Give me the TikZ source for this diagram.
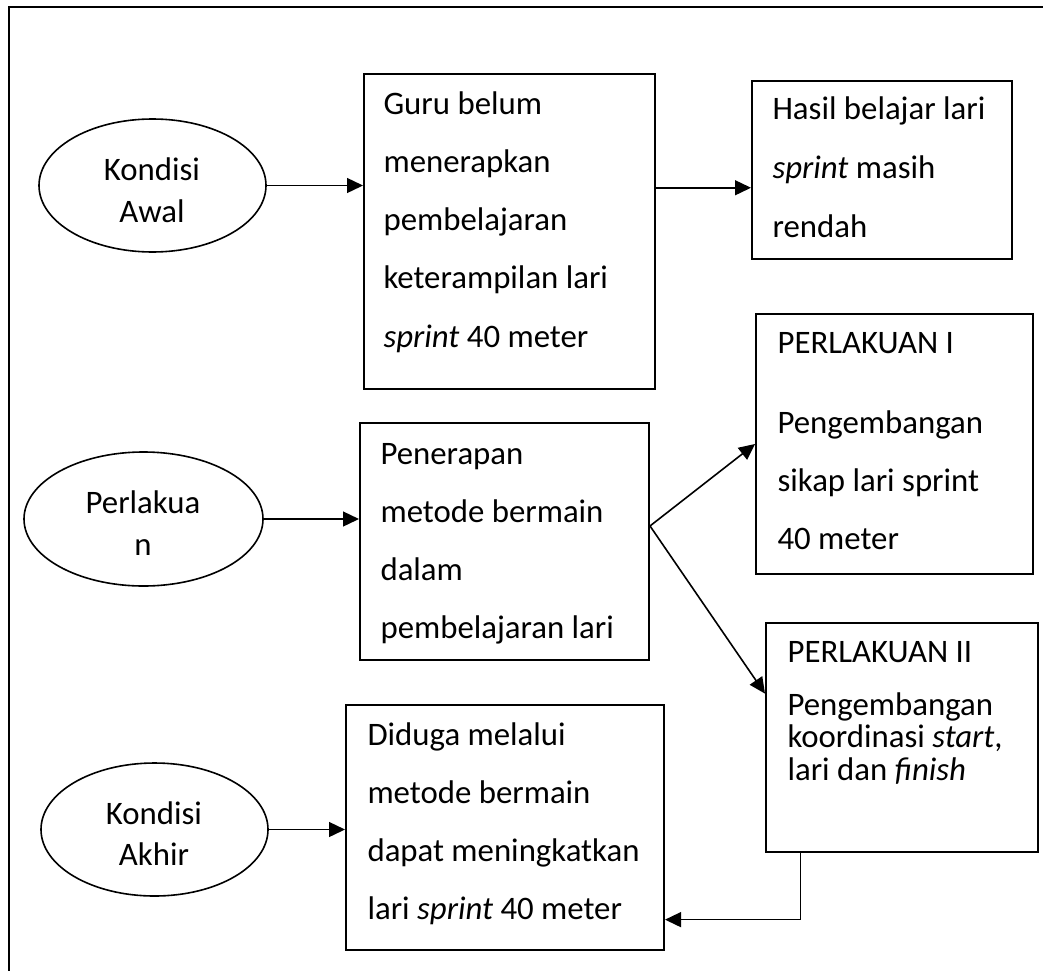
\documentclass[tikz,border=0pt]{standalone}
\usepackage{fontspec}
\setmainfont{Carlito}
\usetikzlibrary{arrows.meta,calc,shapes.geometric}
\begin{document}
\begin{tikzpicture}[x=0.375pt,y=-0.375pt,
  box/.style={draw,line width=0.75pt,inner sep=0pt,anchor=north west},
  oval/.style={draw,ellipse,line width=0.6pt,inner sep=0pt},
  txt/.style={anchor=base west,inner sep=0pt,font=\fontsize{12.3pt}{14pt}\selectfont},
  ctxt/.style={anchor=base,inner sep=0pt,align=center,font=\fontsize{12.3pt}{14pt}\selectfont},
  arr/.style={line width=0.6pt,-{Triangle[length=6pt,width=5.6pt]}}]
\useasboundingbox (0,0) rectangle (1043,970);
% outer frame (only top and left edges visible)
\draw[line width=0.75pt] (9,975) -- (9,7) -- (1048,7);
% ovals
\node[oval,minimum width=227*0.375pt,minimum height=133*0.375pt] (e1) at (152.5,185.5) {};
\node[oval,minimum width=239*0.375pt,minimum height=134*0.375pt] (e2) at (143.5,519) {};
\node[oval,minimum width=227*0.375pt,minimum height=133*0.375pt] (e3) at (154.5,829.5) {};
\node[ctxt] at (152,180) {Kondisi};
\node[ctxt] at (152,222) {Awal};
\node[ctxt] at (143,513) {Perlakua};
\node[ctxt] at (143,555) {n};
\node[ctxt] at (154,824) {Kondisi};
\node[ctxt] at (154,865) {Akhir};
% boxes
\node[box,minimum width=291*0.375pt,minimum height=315*0.375pt] (b1) at (363,73) {};
\node[box,minimum width=260*0.375pt,minimum height=178*0.375pt] (b2) at (751,80) {};
\node[box,minimum width=289*0.375pt,minimum height=237*0.375pt] (b3) at (359,422) {};
\node[box,minimum width=277*0.375pt,minimum height=260*0.375pt] (b4) at (755,313) {};
\node[box,minimum width=272*0.375pt,minimum height=229*0.375pt] (b5) at (765,622) {};
\node[box,minimum width=318*0.375pt,minimum height=245*0.375pt] (b6) at (345,704) {};
% box texts
\node[txt] at (383,115) {\parbox[t]{120pt}{\baselineskip=21.75pt Guru belum\\menerapkan\\pembelajaran\\keterampilan lari\\\textit{sprint} 40 meter}};
\node[txt] at (772,120) {\parbox[t]{100pt}{\baselineskip=22pt Hasil belajar lari\\\textit{sprint} masih\\rendah}};
\node[txt] at (380,464) {\parbox[t]{110pt}{\baselineskip=21.8pt Penerapan\\metode bermain\\dalam\\pembelajaran lari}};
\node[txt] at (777,353) {PERLAKUAN I};
\node[txt] at (777,433) {\parbox[t]{100pt}{\baselineskip=21.9pt Pengembangan\\sikap lari sprint\\40 meter}};
\node[txt] at (787,662) {PERLAKUAN II};
\node[txt] at (787,715) {\parbox[t]{100pt}{\baselineskip=12.2pt Pengembangan\\koordinasi \textit{start},\\lari dan \textit{finish}}};
\node[txt] at (367,745) {\parbox[t]{120pt}{\baselineskip=21.8pt Diduga melalui\\metode bermain\\dapat meningkatkan\\lari \textit{sprint} 40 meter}};
% connectors
\draw[arr] (e1.east) -- (e1.east -| b1.west);
\draw[arr] ($(b1.north east)!0.362!(b1.south east)$) coordinate (p1) -- (p1 -| b2.west);
\draw[arr] (e2.east) -- (e2.east -| b3.west);
\draw[arr] ($(b3.north east)!0.435!(b3.south east)$) coordinate (p2) -- (b4.west);
\draw[arr] (p2) -- ($(b5.north west)!0.31!(b5.south west)$);
\draw[arr] (e3.east) -- (e3.east -| b6.west);
\draw[arr] ($(b5.south west)!0.13!(b5.south east)$) |- ($(b6.north east)!0.873!(b6.south east)$);
\end{tikzpicture}
\end{document}
